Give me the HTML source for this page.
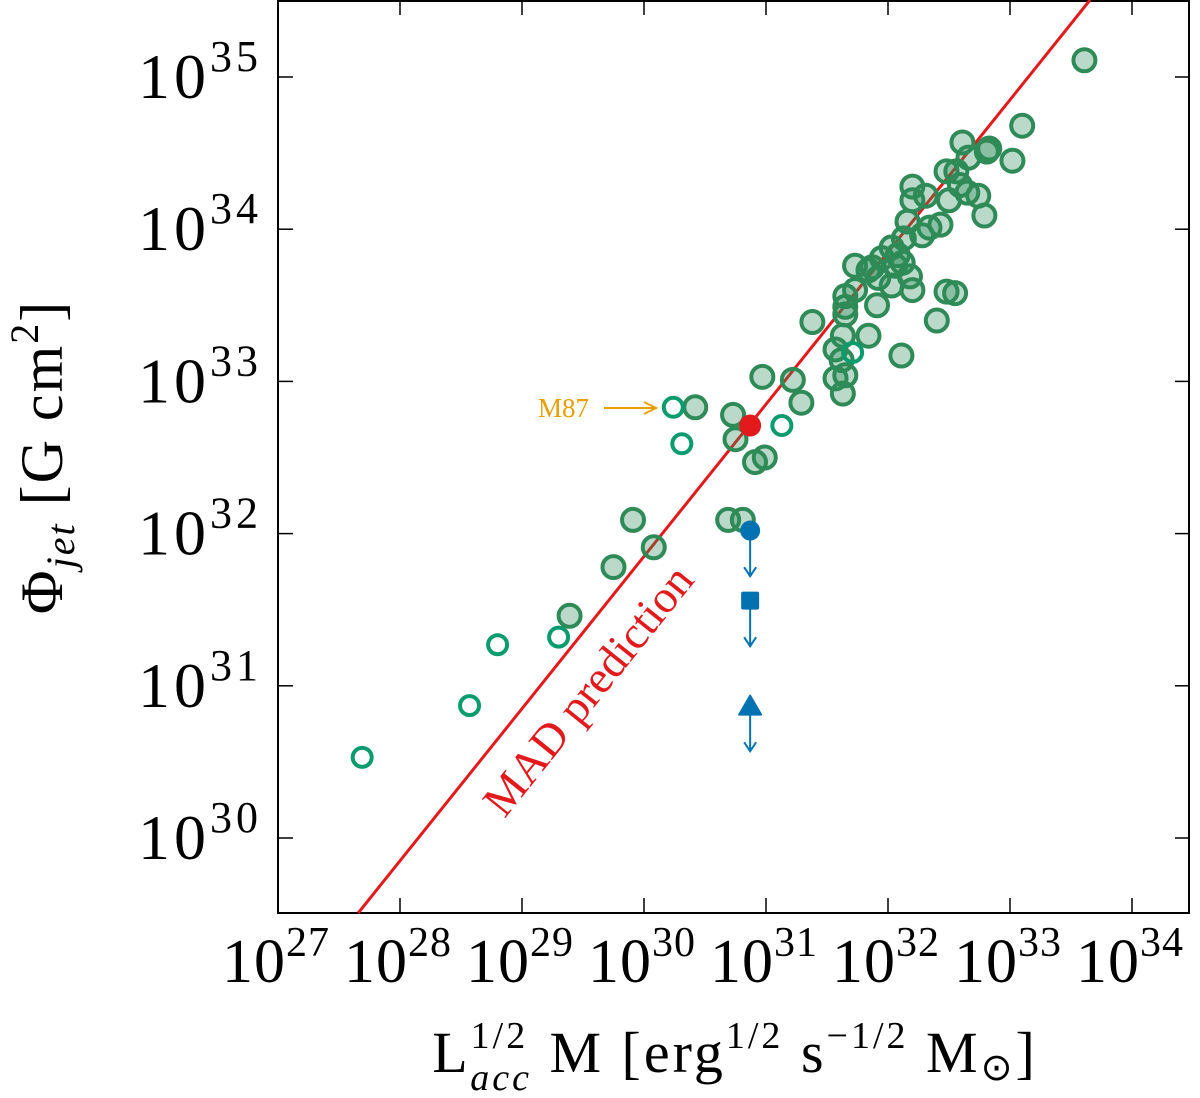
<!DOCTYPE html>
<html><head><meta charset="utf-8"><style>
body{margin:0;background:#fff}
svg{display:block;font-family:"Liberation Serif",serif}
</style></head><body>
<svg id="c" width="1200" height="1098" viewBox="0 0 1200 1098" xmlns="http://www.w3.org/2000/svg"></svg>
<script>
// log10 values
const xTicks=[27,28,29,30,31,32,33,34];
const yTicks=[30,31,32,33,34,35];
const filledX=[33.61,33.10,33.02,32.83,32.81,32.61,32.66,32.56,32.48,32.59,32.65,32.74,32.79,32.50,32.31,32.20,32.20,32.43,32.34,32.16,32.13,32.28,32.03,32.08,32.06,32.12,32.18,32.20,31.95,31.87,31.92,31.73,31.84,32.03,31.73,31.65,31.65,31.91,32.48,32.55,32.40,31.84,31.38,31.63,31.65,31.57,31.62,32.11,31.57,31.65,31.63,31.22,30.97,31.29,30.73,30.75,30.91,30.99,30.69,30.81,30.42,29.91,30.08,29.75,29.39];
const filledY=[35.11,34.68,34.45,34.53,34.51,34.57,34.47,34.38,34.38,34.29,34.24,34.22,34.09,34.19,34.22,34.28,34.19,34.03,34.01,34.05,33.94,33.96,33.88,33.83,33.76,33.78,33.69,33.60,33.81,33.75,33.68,33.76,33.73,33.63,33.60,33.56,33.49,33.50,33.59,33.58,33.40,33.30,33.39,33.30,33.44,33.21,33.14,33.17,33.02,33.04,32.92,33.01,33.03,32.86,32.78,32.62,32.47,32.50,32.09,32.09,32.83,32.09,31.91,31.78,31.46];
const hollowX=[30.24,30.31,31.13,31.71,29.30,28.80,28.57,27.69];
const hollowY=[32.83,32.59,32.71,33.19,31.32,31.27,30.87,30.53];
const m87=[30.87,32.71];
const limitsX=[30.87,30.87,30.87];
const limitsY=[32.02,31.56,30.87];
const limitShapes=["circle","square","triangle"];
const madOffset=1.85;

const L=278,R=1190,T=0,B=913;
const xMin=27,xMax=27+(R-L)/122,yMax=35+77/152.2,yMin=35-(B-77)/152.2;
const sx=v=>L+(v-xMin)/(xMax-xMin)*(R-L);
const sy=v=>B-(v-yMin)/(yMax-yMin)*(B-T);
const svg=document.getElementById('c');const NS='http://www.w3.org/2000/svg';
function mk(t,a,p){const e=document.createElementNS(NS,t);for(const k in a)e.setAttribute(k,a[k]);(p||svg).appendChild(e);return e;}

const fr=mk('rect',{x:L,y:T+1,width:R-L-1,height:B-T-1,fill:'none',stroke:'#000','stroke-width':2});



xTicks.forEach(v=>{const x=sx(v);
 if(v>xMin){mk('line',{x1:x,y1:B,x2:x,y2:B-15,stroke:'#000','stroke-width':1.5});mk('line',{x1:x,y1:T,x2:x,y2:T+15,stroke:'#000','stroke-width':1.5});}
 const t=mk('text',{x:x-2,y:982,'font-size':62,'text-anchor':'middle','letter-spacing':1});
 
 
 t.innerHTML='10<tspan dy="-26" font-size="42">'+v+'</tspan>';
});
yTicks.forEach(v=>{const y=sy(v);
 mk('line',{x1:L,y1:y,x2:L+15,y2:y,stroke:'#000','stroke-width':1.5});mk('line',{x1:R,y1:y,x2:R-15,y2:y,stroke:'#000','stroke-width':1.5});
 const t=mk('text',{x:262,y:y+21,'font-size':64,'text-anchor':'end','letter-spacing':4});
 
 
 t.innerHTML='10<tspan dy="-27" font-size="44">'+v+'</tspan>';
});

const lx1=yMin-madOffset,lx2=yMax-madOffset;
const ln=mk('line',{x1:sx(lx1),y1:sy(lx1+madOffset),x2:sx(lx2),y2:sy(lx2+madOffset),stroke:'#e31a1c','stroke-width':3});


const mt=mk('text',{x:0,y:0,'font-size':46,fill:'#e31a1c','text-anchor':'middle',transform:'translate(600,700) rotate(-51.3)'});


mt.textContent='MAD prediction';

filledX.forEach((v,i)=>{const c=mk('circle',{cx:sx(v),cy:sy(filledY[i]),r:11,fill:'rgba(46,139,87,0.33)',stroke:'#2e8b57','stroke-width':4});
 
 });
hollowX.forEach((v,i)=>{const c=mk('circle',{cx:sx(v),cy:sy(hollowY[i]),r:9.5,fill:'none',stroke:'#0a9b6e','stroke-width':4});
 
 });

const m=mk('circle',{cx:sx(m87[0]),cy:sy(m87[1]),r:11,fill:'#e31a1c'});


const ma=mk('line',{x1:604,y1:408,x2:654,y2:408,stroke:'#e69f00','stroke-width':2});


mk('path',{d:'M644,402 L656,408 L644,414',fill:'none',stroke:'#e69f00','stroke-width':2});
const mlab=mk('text',{x:538,y:417,'font-size':27,fill:'#e69f00'});


mlab.textContent='M87';

limitsX.forEach((v,i)=>{const x=sx(v),y=sy(limitsY[i]);const col='#0072b2';
 const g=mk('g',{});
 
 
 const ya=sy(limitsY[i]-0.3);
 mk('line',{x1:x,y1:y,x2:x,y2:ya,stroke:col,'stroke-width':2},g);
 mk('path',{d:`M${x-6},${ya-9} L${x},${ya} L${x+6},${ya-9}`,fill:'none',stroke:col,'stroke-width':2},g);
 if(limitShapes[i]=='circle')mk('circle',{cx:x,cy:y,r:10,fill:col},g);
 else if(limitShapes[i]=='square')mk('rect',{x:x-9,y:y-9,width:18,height:18,rx:2,fill:col},g);
 else mk('path',{d:`M${x},${y-10} L${x+11},${y+9} L${x-11},${y+9}Z`,fill:col,stroke:col,'stroke-width':2,'stroke-linejoin':'round'},g);
});

const yt=mk('text',{x:0,y:0,'font-size':60,'text-anchor':'middle','letter-spacing':2,transform:'translate(62,457) rotate(-90)'});


yt.innerHTML='Φ<tspan dy="12" font-size="40" font-style="italic">jet</tspan><tspan dy="-12"> [G cm</tspan><tspan dy="-24" font-size="40">2</tspan><tspan dy="24">]</tspan>';
const xt=mk('text',{x:735,y:1072,'font-size':58,'text-anchor':'middle','letter-spacing':3});


xt.innerHTML='L<tspan dy="-24" font-size="38">1/2</tspan><tspan dx="-58" dy="42" font-size="38" font-style="italic">acc</tspan><tspan dy="-18"> M [erg</tspan><tspan dy="-24" font-size="38">1/2</tspan><tspan dy="24"> s</tspan><tspan dy="-24" font-size="38">−1/2</tspan><tspan dy="24"> M</tspan><tspan dy="8" font-size="38">⊙</tspan><tspan dy="-8">]</tspan>';
</script>
</body></html>
